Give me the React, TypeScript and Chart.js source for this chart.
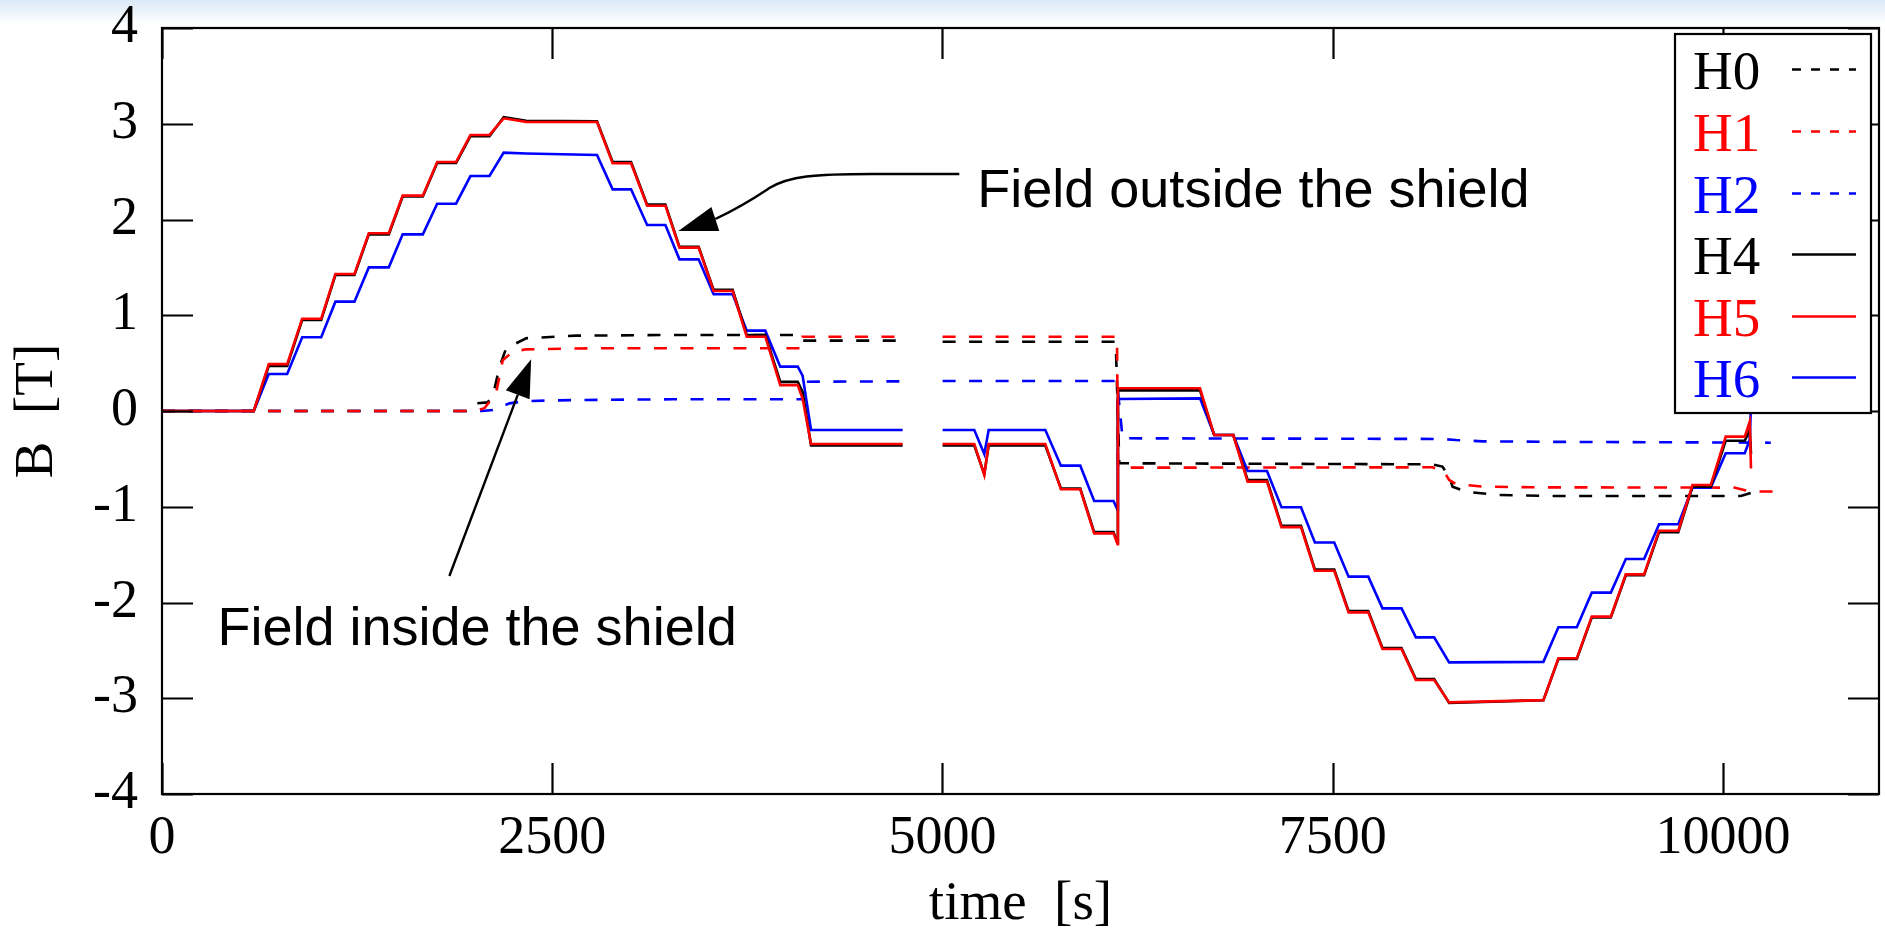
import React, { useEffect, useRef } from "react";
import { Chart, registerables } from "chart.js";
Chart.register(...registerables);

// ---------- axis ticks ----------
const xTickValues = [0, 2500, 5000, 7500, 10000];
const yTickValues = [-4, -3, -2, -1, 0, 1, 2, 3, 4];
const xLimits = [0, 11000];
const yLimits = [-4, 4];

// ---------- legend ----------
const seriesNames = ["H0", "H1", "H2", "H4", "H5", "H6"];
const seriesColors = ["#000000", "#ff0000", "#0000ff", "#000000", "#ff0000", "#0000ff"];
const seriesDashed = [true, true, true, false, false, false];

// ---------- solid sensors (outside the shield) ----------
const solidTime = [
  0, 588, 684, 802, 898, 1020, 1111, 1233, 1325, 1453, 1542, 1671, 1763, 1884, 1976, 2098, 2189, 2333, 2787,
  2887, 3005, 3108, 3225, 3315, 3438, 3534, 3656, 3746, 3865, 3961, 4073, 4104, 4158, 4745, 4870, 5001, 5204,
  5268, 5296, 5659, 5759, 5883, 5972, 6096, 6122, 6124, 6650, 6741, 6863, 6955, 7079, 7172, 7297, 7386, 7510,
  7602, 7728, 7819, 7941, 8033, 8150, 8246, 8850, 8946, 9064, 9160, 9282, 9378, 9495, 9591, 9714, 9805, 9922,
  10018, 10140, 10172, 10180,
];
const h5Field = [
  0, 0, 0.49, 0.49, 0.964, 0.964, 1.431, 1.431, 1.856, 1.856, 2.249, 2.249, 2.6, 2.6, 2.883, 2.883, 3.057, 3.02, 3.018,
  2.587, 2.587, 2.144, 2.144, 1.706, 1.706, 1.253, 1.253, 0.776, 0.776, 0.27, 0.27, 0.13, -0.345, -0.345, null, -0.345, -0.345,
  -0.668, -0.345, -0.345, -0.818, -0.818, -1.278, -1.278, -1.392, 0.237, 0.237, -0.251, -0.251, -0.738, -0.738, -1.213, -1.213, -1.668, -1.668,
  -2.103, -2.103, -2.486, -2.486, -2.81, -2.81, -3.043, -3.02, -2.583, -2.583, -2.148, -2.148, -1.706, -1.706, -1.25, -1.25, -0.773, -0.773,
  -0.268, -0.268, -0.11, -0.6,
];
const h4Field = [
  0, 0, 0.47, 0.47, 0.95, 0.95, 1.42, 1.42, 1.845, 1.845, 2.24, 2.24, 2.59, 2.59, 2.87, 2.87, 3.07, 3.03, 3.025,
  2.6, 2.6, 2.155, 2.155, 1.715, 1.715, 1.265, 1.265, 0.794, 0.794, 0.304, 0.304, 0.2, -0.36, -0.36, null, -0.36, -0.36,
  -0.66, -0.36, -0.36, -0.81, -0.81, -1.265, -1.265, -1.38, 0.215, 0.215, -0.251, -0.251, -0.72, -0.72, -1.2, -1.2, -1.655, -1.655,
  -2.09, -2.09, -2.475, -2.475, -2.8, -2.8, -3.05, -3.02, -2.59, -2.59, -2.155, -2.155, -1.715, -1.715, -1.265, -1.265, -0.79, -0.79,
  -0.31, -0.31, -0.2, -0.45,
];
const h6Field = [
  0, 0, 0.386, 0.386, 0.77, 0.77, 1.142, 1.142, 1.5, 1.5, 1.845, 1.845, 2.165, 2.165, 2.454, 2.454, 2.698, 2.69, 2.674,
  2.315, 2.315, 1.943, 1.943, 1.584, 1.584, 1.219, 1.219, 0.839, 0.839, 0.463, 0.463, 0.37, -0.198, -0.198, null, -0.198, -0.198,
  -0.449, -0.198, -0.198, -0.571, -0.571, -0.94, -0.94, -1.034, 0.125, 0.132, -0.251, -0.251, -0.627, -0.627, -1.006, -1.006, -1.373, -1.373,
  -1.73, -1.73, -2.061, -2.061, -2.364, -2.364, -2.625, -2.62, -2.259, -2.259, -1.897, -1.897, -1.546, -1.546, -1.183, -1.183, -0.8, -0.8,
  -0.442, -0.442, -0.3, 0.08,
];

// ---------- dashed sensors (inside the shield) ----------
const h0Time = [0, 1950, 2012, 2085, 2119, 2162, 2205, 2333, 2653, 3272, 4083, 4104, 4745, 4870, 5001, 6110, 6133, 8140, 8203, 8246, 8268, 8353, 8567, 8887, 10115, 10190];
const h0Field = [0, 0, 0.08, 0.09, 0.15, 0.46, 0.655, 0.76, 0.787, 0.794, 0.794, 0.735, 0.735, null, 0.724, 0.724, -0.546, -0.557, -0.58, -0.686, -0.79, -0.843, -0.877, -0.888, -0.888, -0.85];

const h1Time = [0, 2000, 2066, 2140, 2183, 2247, 2333, 2759, 4040, 4100, 4104, 4745, 4870, 5001, 6118, 6125, 8140, 8214, 8246, 8289, 8459, 8779, 10072, 10170, 10360];
const h1Field = [0, 0, 0.03, 0.185, 0.53, 0.62, 0.644, 0.655, 0.655, 0.655, 0.776, 0.776, null, 0.776, 0.776, -0.592, -0.588, -0.634, -0.72, -0.762, -0.79, -0.797, -0.8, -0.84, -0.84];

const h2Time = [0, 2050, 2119, 2180, 2226, 2333, 2653, 3272, 4100, 4110, 4745, 4870, 5001, 6118, 6154, 8203, 8289, 8459, 8900, 10307];
const h2Field = [0, 0, 0.01, 0.05, 0.08, 0.104, 0.115, 0.122, 0.122, 0.306, 0.31, null, 0.313, 0.313, -0.285, -0.292, -0.303, -0.317, -0.322, -0.331];

// ---------- annotations (data coordinates) ----------
const outsideLabel = { text: "Field outside the shield", x: 5223, y: 2.131 };
const insideLabel = { text: "Field inside the shield", x: 355, y: -2.444 };
// start, line end, bezier(c1,c2,end), bezier(c1,c2,end = arrow base), tip
const outsideArrowPts = [
  [5108, 2.475], [4550, 2.475],
  [4179, 2.475], [4019, 2.454], [3891, 2.329],
  [3795, 2.225], [3731, 2.151], [3545, 2.005],
  [3308, 1.88],
];
const insideArrowPts = [[1841, -1.723], [2365, 0.54]];

const zip = (t: number[], v: (number | null)[]) => t.map((x, i) => ({ x, y: v[i] }));

const serif = "'Liberation Serif', 'Times New Roman', serif";
const sans = "'Liberation Sans', Arial, sans-serif";

const decorPlugin = {
  id: "decor",
  beforeDraw(chart: any) {
    const ctx = chart.ctx;
    ctx.save();
    ctx.fillStyle = "#ffffff";
    ctx.fillRect(0, 0, chart.width, chart.height);
    const g = ctx.createLinearGradient(0, 0, 0, 24);
    g.addColorStop(0, "rgb(218,233,246)");
    g.addColorStop(1, "rgba(255,255,255,1)");
    ctx.fillStyle = g;
    ctx.fillRect(0, 0, chart.width, 24);
    ctx.restore();
  },
  afterDatasetsDraw(chart: any) {
    const ctx = chart.ctx;
    const { left, right, top, bottom } = chart.chartArea;
    const xs = chart.scales.x;
    const ys = chart.scales.y;
    const tickLen = 31;
    ctx.save();
    ctx.strokeStyle = "#000";
    ctx.lineWidth = 2.2;
    ctx.setLineDash([]);
    ctx.beginPath();
    for (const v of xTickValues) {
      const px = Math.round(xs.getPixelForValue(v)) + 0.5;
      ctx.moveTo(px, bottom); ctx.lineTo(px, bottom - tickLen);
      ctx.moveTo(px, top); ctx.lineTo(px, top + tickLen);
    }
    for (const v of yTickValues) {
      const py = Math.round(ys.getPixelForValue(v)) + 0.5;
      ctx.moveTo(left, py); ctx.lineTo(left + tickLen, py);
      ctx.moveTo(right, py); ctx.lineTo(right - tickLen, py);
    }
    ctx.stroke();
    ctx.strokeRect(left, top, right - left, bottom - top);

    // annotations
    const P = (p: number[]) => [xs.getPixelForValue(p[0]), ys.getPixelForValue(p[1])];
    const head = (base: number[], tip: number[]) => {
      const dx = tip[0] - base[0], dy = tip[1] - base[1];
      const L = Math.hypot(dx, dy);
      const ux = dx / L, uy = dy / L;
      const hw = 12.7;
      ctx.beginPath();
      ctx.moveTo(tip[0], tip[1]);
      ctx.lineTo(base[0] - uy * hw, base[1] + ux * hw);
      ctx.lineTo(base[0] + uy * hw, base[1] - ux * hw);
      ctx.closePath();
      ctx.fill();
    };
    ctx.fillStyle = "#000";
    ctx.lineWidth = 2.4;
    const o = outsideArrowPts.map(P);
    ctx.beginPath();
    ctx.moveTo(o[0][0], o[0][1]);
    ctx.lineTo(o[1][0], o[1][1]);
    ctx.bezierCurveTo(o[2][0], o[2][1], o[3][0], o[3][1], o[4][0], o[4][1]);
    ctx.bezierCurveTo(o[5][0], o[5][1], o[6][0], o[6][1], o[7][0], o[7][1]);
    ctx.stroke();
    head(o[7], o[8]);

    const a = insideArrowPts.map(P);
    const dx = a[1][0] - a[0][0], dy = a[1][1] - a[0][1];
    const L = Math.hypot(dx, dy);
    const base = [a[1][0] - (dx / L) * 38, a[1][1] - (dy / L) * 38];
    ctx.beginPath();
    ctx.moveTo(a[0][0], a[0][1]);
    ctx.lineTo(base[0], base[1]);
    ctx.stroke();
    head(base, a[1]);

    ctx.font = `54px ${sans}`;
    ctx.textBaseline = "alphabetic";
    ctx.textAlign = "left";
    for (const lab of [outsideLabel, insideLabel]) {
      const p = P([lab.x, lab.y]);
      ctx.fillText(lab.text, p[0], p[1]);
    }

    // legend
    const boxRight = right - 8;
    const boxLeft = boxRight - 196;
    const boxTop = top + 6;
    const boxH = 379;
    ctx.fillStyle = "#fff";
    ctx.fillRect(boxLeft, boxTop, boxRight - boxLeft, boxH);
    ctx.lineWidth = 2.2;
    ctx.strokeStyle = "#000";
    ctx.strokeRect(boxLeft, boxTop, boxRight - boxLeft, boxH);
    ctx.font = `55px ${serif}`;
    seriesNames.forEach((name, i) => {
      const baseY = boxTop + 55.3 + i * 61.6;
      ctx.fillStyle = seriesColors[i];
      ctx.fillText(name, boxLeft + 18, baseY);
      ctx.strokeStyle = seriesColors[i];
      ctx.lineWidth = 2.4;
      ctx.setLineDash(seriesDashed[i] ? [9, 10] : []);
      ctx.beginPath();
      const ly = Math.round(baseY - 20) + 0.5;
      ctx.moveTo(boxLeft + 117, ly);
      ctx.lineTo(boxLeft + 181, ly);
      ctx.stroke();
    });
    ctx.restore();
  },
};

export default function App() {
  const ref = useRef<HTMLCanvasElement>(null);
  useEffect(() => {
    if (!ref.current) return;
    const mk = (label: string, t: number[], v: (number | null)[], color: string, dashed: boolean) => ({
      label,
      data: zip(t, v),
      borderColor: color,
      backgroundColor: color,
      borderWidth: 2.6,
      borderDash: dashed ? [13, 13.5] : [],
      pointRadius: 0,
      tension: 0,
      fill: false,
      spanGaps: false,
    });
    const chart = new Chart(ref.current, {
      type: "line",
      data: {
        datasets: [
          mk("H5", solidTime, h5Field, "#ff0000", false),
          mk("H4", solidTime, h4Field, "#000000", false),
          mk("H6", solidTime, h6Field, "#0000ff", false),
          mk("H1", h1Time, h1Field, "#ff0000", true),
          mk("H0", h0Time, h0Field, "#000000", true),
          mk("H2", h2Time, h2Field, "#0000ff", true),
        ],
      },
      options: {
        animation: false,
        responsive: false,
        layout: { padding: { left: 0, right: 6, top: 28, bottom: 0 } },
        plugins: { legend: { display: false }, tooltip: { enabled: false } },
        scales: {
          x: {
            type: "linear",
            min: xLimits[0],
            max: xLimits[1],
            grid: { display: false, drawTicks: false },
            border: { display: false },
            afterBuildTicks: (s: any) => { s.ticks = xTickValues.map((v) => ({ value: v })); },
            afterFit: (s: any) => { s.height = 138; s.paddingLeft = 0; s.paddingRight = 0; },
            ticks: {
              color: "#000", padding: 12, maxRotation: 0, autoSkip: false,
              font: { family: serif, size: 54 },
              callback: (v: any) => String(v),
            },
            title: { display: true, text: "time\u2002[s]", color: "#000", padding: { top: 2, bottom: 0 }, font: { family: serif, size: 55, lineHeight: 1 } },
          },
          y: {
            type: "linear",
            min: yLimits[0],
            max: yLimits[1],
            grid: { display: false, drawTicks: false },
            border: { display: false },
            afterBuildTicks: (s: any) => { s.ticks = yTickValues.map((v) => ({ value: v })); },
            afterFit: (s: any) => { s.width = 162; s.paddingTop = 0; s.paddingBottom = 0; },
            ticks: {
              color: "#000", padding: 24, autoSkip: false,
              font: { family: serif, size: 54 },
              callback: (v: any) => String(v),
            },
            title: { display: true, text: "B\u2002[T]", color: "#000", padding: { top: 10, bottom: 0 }, font: { family: serif, size: 55, lineHeight: 1 } },
          },
        },
      },
      plugins: [decorPlugin],
    } as any);
    return () => chart.destroy();
  }, []);
  return (
    <canvas
      ref={ref}
      width={1885}
      height={932}
      style={{ position: "fixed", left: 0, top: 0, width: 1885, height: 932, display: "block" }}
    />
  );
}
